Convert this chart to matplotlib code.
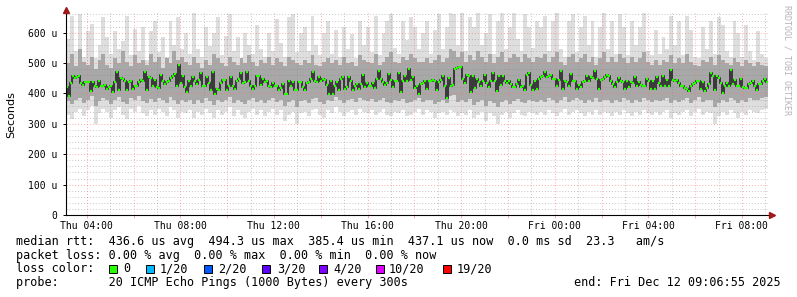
import numpy as np
import matplotlib
matplotlib.use('Agg')
import matplotlib.pyplot as plt
from matplotlib.patches import Rectangle

# median rtt per 300s step, microseconds
median_us = [
    421, 393, 434, 459, 450, 453, 459, 434, 428, 439, 437, 439, 407, 438, 423, 421, 442, 423, 426, 429,
    415, 421, 425, 404, 437, 470, 410, 450, 446, 440, 410, 437, 442, 415, 426, 423, 437, 445, 442, 470,
    412, 453, 451, 426, 445, 421, 418, 461, 440, 432, 437, 440, 450, 459, 464, 423, 494, 434,
    459, 421, 404, 442, 423, 453, 442, 432, 445, 467, 423, 423, 453, 434, 410, 470, 397, 415, 412, 434,
    445, 445, 412, 423, 453, 423, 415, 442, 448, 467, 434, 437, 472, 442, 426, 415, 426, 459, 459, 429,
    448, 437, 442, 423, 421, 434, 426, 423, 410, 418, 432, 399, 399, 442, 423, 437, 412, 412, 437,
    437, 421, 412, 434, 437, 448, 472, 442, 437, 453, 442, 448, 445, 429, 399, 442, 397, 423, 437, 410,
    448, 453, 415, 421, 453, 442, 410, 426, 432, 415, 432, 462, 421, 434, 426, 426, 434, 418, 448, 475,
    448, 437, 429, 434, 464, 445, 421, 442, 440, 468, 404, 442, 459, 440, 481, 445, 453, 418, 426, 397,
    432, 434, 442, 415, 440, 440, 445, 440, 410, 437, 445, 459, 426, 385, 451, 423, 429, 481, 484, 486,
    486, 448, 434, 461, 456, 404, 459, 418, 448, 437, 426, 440, 462, 434, 421, 442, 468, 440, 407, 456,
    429, 459, 440, 434, 440, 432, 421, 421, 432, 445, 421, 426, 412, 462, 467, 429, 412, 442, 415,
    448, 453, 456, 470, 453, 459, 462, 448, 448, 426, 445, 473, 415, 440, 437, 426, 464, 442, 440, 415,
    429, 421, 437, 440, 459, 442, 453, 451, 475, 448, 415, 445, 448, 453, 462, 459, 440, 432, 421, 437,
    451, 440, 437, 415, 442, 421, 437, 434, 453, 423, 437, 429, 423, 426, 448, 442, 415, 440, 415, 453,
    434, 423, 459, 426, 445, 426, 478, 443, 440, 443, 434, 426, 426, 419, 415, 408, 426, 432, 434, 440,
    440, 415, 437, 408, 419, 432, 467, 459, 412, 456, 451, 434, 401, 423, 434, 423, 478, 430, 445, 426,
    423, 448, 421, 419, 419, 430, 434, 440, 426, 410, 432, 432, 440, 448, 437,
]

# smoke envelope per two steps, microseconds (highest ping, upper band, lower band, lowest ping)
smoke_max = [
    579, 656, 540, 661, 520, 606, 628, 515, 560, 650, 585, 530, 606, 545, 574, 656, 525, 612, 540, 617,
    510, 606, 639, 535, 585, 520, 639, 560, 650, 545,
    600, 530, 665, 545, 520, 620, 555, 600, 650, 525, 590, 660, 540, 585, 515, 600, 560, 530, 625, 545,
    520, 600, 540, 645, 565, 520, 650, 660, 535, 600,
    620, 540, 655, 560, 525, 600, 640, 530, 610, 520, 620, 545, 595, 515, 640, 560, 620, 535, 655, 525,
    600, 640, 660, 550, 530, 640, 575, 650, 620, 545,
    600, 640, 530, 610, 660, 545, 620, 665, 660, 560, 665, 540, 650, 620, 665, 560, 600, 660, 530, 640,
    665, 545, 620, 665, 580, 540, 660, 620, 550, 640,
    620, 655, 540, 640, 665, 545, 520, 640, 660, 535, 620, 655, 560, 640, 520, 620, 665, 545, 640, 530,
    660, 620, 525, 640, 560, 620, 665, 540, 525, 610,
    530, 585, 545, 655, 560, 640, 525, 655, 610, 520, 515, 620, 545, 640, 530, 650, 625, 540, 520, 640,
    600, 520, 625, 540, 510, 605, 530, 515,
]
smoke_upper = [
    500, 530, 490, 545, 505, 495, 520, 480, 510, 530, 495, 485, 515, 500, 540, 505, 490, 525, 500, 510,
    495, 530, 505, 520, 485, 515, 500, 540, 510, 520,
    505, 495, 520, 500, 485, 510, 495, 530, 515, 500, 490, 520, 505, 495, 515, 500, 525, 505, 490, 510,
    500, 520, 495, 515, 505, 490, 520, 510, 500, 495,
    510, 500, 525, 495, 490, 505, 515, 500, 510, 495, 520, 500, 505, 490, 525, 510, 505, 500, 530, 495,
    505, 520, 535, 505, 500, 520, 510, 530, 515, 505,
    505, 515, 500, 510, 525, 505, 515, 545, 540, 520, 535, 505, 525, 510, 540, 520, 505, 530, 500, 520,
    535, 505, 515, 530, 520, 505, 530, 515, 505, 520,
    515, 530, 505, 520, 535, 505, 495, 520, 530, 505, 515, 530, 505, 520, 495, 515, 535, 505, 520, 505,
    530, 515, 500, 520, 505, 515, 535, 505, 495, 510,
    495, 510, 505, 525, 500, 515, 500, 530, 505, 495, 490, 510, 505, 520, 495, 525, 510, 500, 495, 515,
    505, 490, 510, 500, 490, 505, 495, 490,
]
smoke_lower = [
    375, 365, 380, 385, 370, 380, 390, 360, 375, 385, 380, 365, 378, 388, 372, 365, 385, 380, 390, 375,
    368, 382, 372, 385, 378, 368, 388, 380, 365, 378,
    372, 380, 365, 378, 370, 385, 375, 362, 380, 372, 378, 388, 368, 380, 372, 365, 378, 385, 372, 380,
    368, 378, 385, 372, 380, 360, 372, 378, 355, 375,
    378, 368, 382, 385, 372, 365, 380, 375, 388, 378, 368, 378, 382, 372, 385, 378, 375, 382, 372, 378,
    385, 372, 368, 378, 375, 382, 368, 372, 378, 385,
    372, 380, 378, 365, 372, 378, 368, 392, 395, 372, 380, 372, 382, 362, 372, 378, 360, 375, 368, 355,
    372, 378, 365, 375, 382, 372, 368, 378, 375, 372,
    380, 372, 385, 378, 368, 380, 388, 372, 380, 385, 378, 368, 380, 372, 385, 372, 380, 378, 368, 380,
    372, 385, 378, 368, 380, 372, 385, 378, 372, 380,
    375, 380, 385, 368, 378, 372, 380, 385, 370, 380, 388, 372, 380, 378, 355, 370, 380, 372, 385, 378,
    368, 380, 372, 385, 380, 378, 385, 388,
]
smoke_min = [
    330, 315, 340, 350, 325, 345, 360, 300, 335, 350, 340, 320, 345, 355, 330, 315, 350, 340, 360, 335,
    325, 345, 330, 350, 340, 325, 355, 345, 320, 340,
    335, 345, 320, 340, 330, 350, 335, 320, 345, 330, 340, 355, 325, 345, 330, 320, 340, 350, 330, 345,
    325, 340, 350, 330, 345, 310, 330, 340, 300, 335,
    340, 325, 345, 350, 330, 320, 345, 335, 355, 340, 325, 340, 345, 330, 350, 340, 335, 345, 330, 340,
    350, 330, 325, 340, 335, 345, 325, 330, 340, 350,
    330, 345, 340, 320, 335, 340, 330, 345, 340, 325, 335, 330, 345, 320, 330, 340, 310, 335, 325, 300,
    330, 340, 320, 335, 345, 330, 325, 340, 335, 330,
    340, 330, 345, 335, 325, 340, 350, 330, 340, 345, 335, 325, 340, 330, 345, 330, 340, 335, 325, 340,
    330, 345, 335, 325, 340, 330, 345, 335, 330, 340,
    330, 340, 345, 320, 335, 330, 340, 345, 325, 340, 350, 330, 340, 335, 300, 325, 340, 330, 345, 335,
    320, 340, 330, 345, 340, 335, 345, 350,
]

loss_labels = ['0', '1/20', '2/20', '3/20', '4/20', '10/20', '19/20']
loss_colors = ['#26ff00', '#00b8ff', '#0059ff', '#5e00ff', '#7e00ff', '#dd00ff', '#ff0000']
loss_box_x = [109, 146, 204, 262, 319, 376, 443]
loss_text_x = [123, 160, 218, 277, 333, 389, 457]

# hours since Thu 00:00
t_end = 33 + 6 / 60 + 55 / 3600
t_start = t_end - 30
tick_hours = [4, 8, 12, 16, 20, 24, 28, 32]
tick_labels = ['Thu 04:00', 'Thu 08:00', 'Thu 12:00', 'Thu 16:00',
               'Thu 20:00', 'Fri 00:00', 'Fri 04:00', 'Fri 08:00']
y_ticks = [0, 100, 200, 300, 400, 500, 600]
y_labels = ['0', '100 u', '200 u', '300 u', '400 u', '500 u', '600 u']

W, H = 797, 297
mono = 'DejaVu Sans Mono'
fig = plt.figure(figsize=(W / 100, H / 100), dpi=100, facecolor='white')
ax = fig.add_axes([66 / W, (H - 215) / H, (768 - 66) / W, (215 - 12) / H])
ax.set_facecolor('white')

# smoke
s_edges = np.linspace(t_start, t_end, len(smoke_max) + 1)
ax.stairs(smoke_max, s_edges, baseline=smoke_min, fill=True, color='#dedede', zorder=1)
ax.stairs(smoke_upper, s_edges, baseline=smoke_lower, fill=True, color='#a8a8a8', zorder=1.2)

# grid
pink = (1.0, 0.45, 0.45, 0.6)
grey = (0.5, 0.5, 0.5, 0.45)
for v in range(20, 668, 20):
    ax.axhline(v, color=pink if v % 100 == 0 else grey, lw=0.7, ls=(0, (1, 2)), zorder=2)
for h in range(4, 34):
    ax.axvline(h, color=pink if h % 2 == 0 else grey, lw=0.7, ls=(0, (1, 2)), zorder=2)

# median
m_edges = np.linspace(t_start, t_end, len(median_us) + 1)
ax.stairs(median_us, m_edges, baseline=None, color='#1a1a1a', lw=1.1, zorder=3)
ax.hlines(median_us, m_edges[:-1], m_edges[1:], colors=loss_colors[0], lw=1.6, zorder=4)

ax.set_xlim(t_start, t_end)
ax.set_ylim(0, 668)
for s in ['top', 'right']:
    ax.spines[s].set_visible(False)
for s in ['left', 'bottom']:
    ax.spines[s].set_linewidth(0.8)
    ax.spines[s].set_zorder(5)

ax.set_xticks(list(range(4, 34, 2)))
ax.set_xticklabels([tick_labels[tick_hours.index(h)] if h in tick_hours else ''
                    for h in range(4, 34, 2)], fontsize=7, family=mono)
ax.tick_params(axis='x', length=2.5, width=0.7, color=pink, pad=1.5)
ax.set_yticks(y_ticks)
ax.set_yticklabels(y_labels, fontsize=7, family=mono)
ax.tick_params(axis='y', length=2.5, width=0.7, color='black', pad=3.5)

# axis arrows
ax.plot([1.006], [0], marker='>', ms=4, color='#a01818', transform=ax.transAxes, clip_on=False, zorder=6)
ax.plot([0], [1.01], marker='^', ms=4, color='#a01818', transform=ax.transAxes, clip_on=False, zorder=6)

fig.text(11 / W, 1 - 115 / H, 'Seconds', rotation=90, ha='center', va='center', fontsize=8,
         family='DejaVu Sans')
fig.text(787 / W, 1 - 60 / H, 'RRDTOOL / TOBI OETIKER', rotation=270, ha='center', va='center',
         fontsize=6, family=mono, color='#b4b4b4')

# legend
fs = 8.5
fig.text(16 / W, 1 - 241.5 / H, 'median rtt:  436.6 us avg  494.3 us max  385.4 us min  '
         '437.1 us now  0.0 ms sd  23.3   am/s', fontsize=fs, family=mono, va='center')
fig.text(16 / W, 1 - 255 / H, 'packet loss: 0.00 % avg  0.00 % max  0.00 % min  0.00 % now',
         fontsize=fs, family=mono, va='center')
fig.text(16 / W, 1 - 269 / H, 'loss color:', fontsize=fs, family=mono, va='center')
for bx, tx, lab, col in zip(loss_box_x, loss_text_x, loss_labels, loss_colors):
    fig.patches.append(Rectangle((bx / W, 1 - 273 / H), 8 / W, 8 / H, transform=fig.transFigure,
                                 facecolor=col, edgecolor='black', lw=0.7))
    fig.text(tx / W, 1 - 269 / H, lab, fontsize=fs, family=mono, va='center')
fig.text(16 / W, 1 - 282.7 / H, 'probe:       20 ICMP Echo Pings (1000 Bytes) every 300s',
         fontsize=fs, family=mono, va='center')
fig.text(781 / W, 1 - 282.7 / H, 'end: Fri Dec 12 09:06:55 2025', fontsize=fs, family=mono,
         va='center', ha='right')

fig.savefig('out.png', dpi=100, facecolor='white')
